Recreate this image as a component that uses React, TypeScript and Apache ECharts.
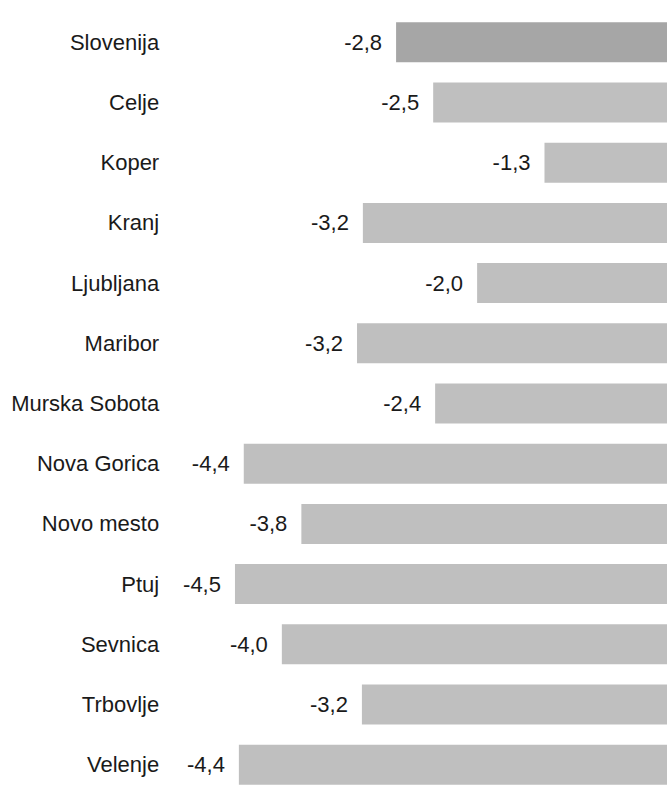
import React, { useEffect, useRef } from "react";
import * as echarts from "echarts";

const categories = [
  "Slovenija",
  "Celje",
  "Koper",
  "Kranj",
  "Ljubljana",
  "Maribor",
  "Murska Sobota",
  "Nova Gorica",
  "Novo mesto",
  "Ptuj",
  "Sevnica",
  "Trbovlje",
  "Velenje",
];

const values = [-2.83, -2.45, -1.31, -3.17, -2.0, -3.23, -2.43, -4.39, -3.8, -4.48, -4.0, -3.18, -4.44];

const highlightCategory = "Slovenija";

const FONT = "'Liberation Sans', Arial, sans-serif";

export default function App() {
  const ref = useRef<HTMLDivElement>(null);

  useEffect(() => {
    if (!ref.current) return;
    const chart = echarts.init(ref.current, undefined, { renderer: "svg" });
    chart.setOption({
      animation: false,
      backgroundColor: "#ffffff",
      grid: {
        left: 184.2,
        width: 488.2,
        top: 12.2,
        height: 782.6,
        containLabel: false,
        outerBoundsMode: "none",
      },
      xAxis: {
        type: "value",
        min: -5,
        max: 0,
        show: false,
      },
      yAxis: {
        type: "category",
        data: categories,
        inverse: true,
        axisLine: { show: false },
        axisTick: { show: false },
        splitLine: { show: false },
        axisLabel: {
          margin: 25,
          fontFamily: FONT,
          fontSize: 22,
          color: "#1a1a1a",
        },
      },
      series: [
        {
          type: "bar",
          barWidth: 40,
          data: values.map((v, i) => ({
            value: v,
            itemStyle: {
              color: categories[i] === highlightCategory ? "#a6a6a6" : "#bfbfbf",
            },
          })),
          label: {
            show: true,
            position: "left",
            distance: 14,
            fontFamily: FONT,
            fontSize: 22,
            color: "#1a1a1a",
            formatter: (p: any) => Number(p.value).toFixed(1).replace(".", ","),
          },
        },
      ],
    });
    return () => chart.dispose();
  }, []);

  return (
    <div
      style={{
        position: "absolute",
        left: 0,
        top: 0,
        width: 667,
        height: 785,
        overflow: "hidden",
        background: "#fff",
      }}
    >
      <div ref={ref} style={{ width: 680, height: 800 }} />
    </div>
  );
}
